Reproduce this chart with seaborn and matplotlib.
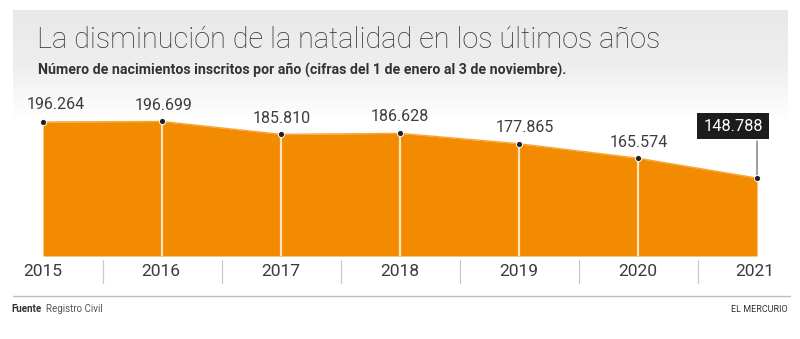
import numpy as np
import pandas as pd
import matplotlib
matplotlib.use("Agg")
import matplotlib.pyplot as plt
from matplotlib.colors import LinearSegmentedColormap
import seaborn as sns

years = [2015, 2016, 2017, 2018, 2019, 2020, 2021]
births = [196264, 196699, 185810, 186628, 177865, 165574, 148788]
labels = ["196.264", "196.699", "185.810", "186.628", "177.865", "165.574", "148.788"]
year_labels = ["2015", "2016", "2017", "2018", "2019", "2020", "2021"]

title = "La disminución de la natalidad en los últimos años"
subtitle = "Número de nacimientos inscritos por año (cifras del 1 de enero al 3 de noviembre)."
source_bold = "Fuente"
source = "Registro Civil"
brand = "EL MERCURIO"

df = pd.DataFrame({"year": years, "births": births})

sns.set_theme(style="white")
plt.rcParams["font.family"] = ["Roboto", "DejaVu Sans"]

W, H = 800, 339
fig = plt.figure(figsize=(W / 100, H / 100), dpi=100)
fig.patch.set_facecolor("white")

# gray gradient panel behind the title
bg = fig.add_axes([13 / W, 1 - 120 / H, (788 - 13) / W, (120 - 10) / H])
grad = np.linspace(0, 1, 100)[:, None]
cmap = LinearSegmentedColormap.from_list("g", ["#e9e9eb", "#eeeeef", "#ffffff"])
bg.imshow(grad, aspect="auto", cmap=cmap, extent=[0, 1, 0, 1])
bg.axis("off")

ymin, ymax = 82700, 214900
ax = fig.add_axes([43 / W, (H - 256) / H, (757 - 43) / W, 156 / H])
ax.set_facecolor("none")
orange = "#f38b00"
ax.fill_between(df["year"], df["births"], ymin, color=orange, linewidth=0)
ax.plot(df["year"], df["births"], color="#f7a733", lw=1.0)
for x, y in zip(df["year"].iloc[1:-1], df["births"].iloc[1:-1]):
    ax.plot([x, x], [ymin, y], color="#fbe3c4", lw=1.6)
sns.scatterplot(data=df, x="year", y="births", ax=ax, color="#222222", s=20,
                edgecolor="white", linewidth=0.7, zorder=5, clip_on=False, legend=False)
ax.set_xlim(2015, 2021)
ax.set_ylim(ymin, ymax)
ax.axis("off")

# value labels (offsets in pixels)
offsets = [(13, 17), (2, 16), (1, 16), (0, 17), (6, 16), (1, 16)]
for i in range(6):
    ax.annotate(labels[i], (years[i], births[i]), xytext=offsets[i],
                textcoords="offset pixels", ha="center", va="center",
                fontsize=11.5, color="#3d3d3d")
# highlighted last value
ax.annotate("", (years[-1], births[-1]), xytext=(0, 37), textcoords="offset pixels",
            arrowprops=dict(arrowstyle="-", color="#555555", lw=0.8, shrinkA=0, shrinkB=0))
ax.annotate(labels[-1], (years[-1], births[-1]), xytext=(-24, 52),
            textcoords="offset pixels", ha="center", va="center",
            fontsize=11.8, color="white",
            bbox=dict(boxstyle="square,pad=0.36", fc="#1c1c1c", ec="none"))

tax = fig.add_axes([0, 0, 1, 1])
tax.set_xlim(0, W)
tax.set_ylim(H, 0)
tax.axis("off")
tax.patch.set_alpha(0)
xs = [43, 161, 281, 400, 519, 638, 755]
for x, yl in zip(xs, year_labels):
    tax.text(x, 272, yl, ha="center", va="center", fontsize=12.5, color="#3a3a3a")
for x in [103, 222, 341, 460, 579, 698]:
    tax.plot([x, x], [260, 283], color="#c8c8c8", lw=0.9)
tax.plot([13, 790], [296, 296], color="#bdbdbd", lw=1.0)

# titles
tax.text(37, 40, title, ha="left", va="center", fontsize=20.8, color="#333333", fontweight="light")
tax.text(38, 70, subtitle, ha="left", va="center", fontsize=10.2, color="#333333", fontweight="bold")
tax.text(11, 309, source_bold, ha="left", va="center", fontsize=7, color="#333333", fontweight="bold")
tax.text(46, 309, source, ha="left", va="center", fontsize=7, color="#555555")
tax.text(788, 309, brand, ha="right", va="center", fontsize=6.5, color="#333333")

fig.savefig("out.png", dpi=100, facecolor="white")
